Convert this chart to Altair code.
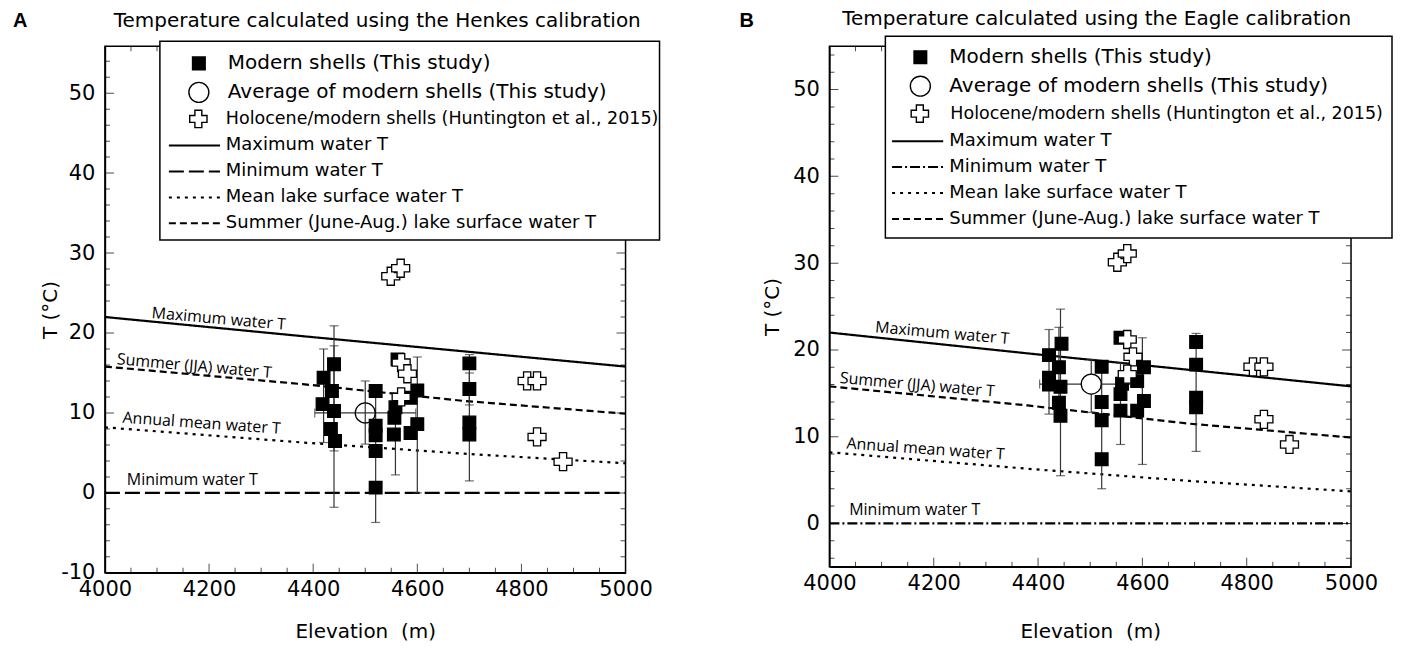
import altair as alt
import pandas as pd

FONT = "DejaVu Sans"

# ---------------- shared reference lines ----------------
line_names = ["Maximum water T", "Minimum water T", "Mean lake surface water T",
              "Summer (June-Aug.) lake surface water T"]
line_elev = [4000, 4380, 4690, 5000]
max_T = [22.0, 19.6, 17.7, 15.8]
min_T = [0.0, 0.0, 0.0, 0.0]
mean_T = [8.2, 6.3, 4.9, 3.7]
summer_T = [15.8, 13.6, 11.5, 9.9]

study_names = ["Modern shells (This study)", "Average of modern shells (This study)"]
hunt_name = "Holocene/modern shells (Huntington et al., 2015)"

ann_text = ["Maximum water T", "Summer (JJA) water T", "Annual mean water T", "Minimum water T"]
ann_angle = [5, 5, 4, 0]

# ---------------- Panel A: Henkes calibration ----------------
H_sq_elev = [4420, 4418, 4440, 4436, 4440, 4434, 4442, 4520, 4520, 4520, 4520, 4520,
             4562, 4558, 4556, 4555, 4587, 4600, 4600, 4587, 4700, 4700, 4700, 4700]
H_sq_T = [14.4, 11.1, 16.1, 12.75, 10.25, 8.0, 6.5, 12.75, 8.4, 7.2, 5.25, 0.66,
          16.7, 10.7, 9.4, 7.3, 11.9, 12.8, 8.6, 7.5, 16.2, 13.0, 8.8, 7.3]
H_eb_elev = [4420, 4440, 4440, 4520, 4558, 4600, 4700, 4700]
H_eb_lo = [6.3, -1.8, 5.25, -3.7, 2.25, 0.0, 1.5, 11.0]
H_eb_hi = [18.0, 20.9, 18.4, 12.8, 12.5, 17.0, 17.3, 15.0]
H_avg = [4500, 10.0]
H_avg_elev_rng = [4403, 4597]
H_avg_T_rng = [6.1, 14.0]
H_hu_elev = [4549, 4568, 4569, 4581, 4569, 4811, 4830, 4830, 4880]
H_hu_T = [27.1, 28.1, 16.3, 14.9, 12.0, 14.0, 14.0, 7.0, 3.9]
H_ann_x = [4090, 4023, 4034, 4042]
H_ann_y = [22.5, 16.7, 9.4, 1.6]

# ---------------- Panel B: Eagle calibration ----------------
E_sq_elev = [4421, 4421, 4421, 4445, 4440, 4443, 4440, 4443, 4522, 4522, 4522, 4522,
             4558, 4561, 4558, 4558, 4603, 4590, 4603, 4590, 4703, 4703, 4703, 4703]
E_sq_T = [19.4, 16.8, 16.0, 20.7, 18.0, 15.75, 13.9, 12.4, 18.05, 14.0, 11.9, 7.4,
          21.4, 16.1, 14.9, 13.0, 18.0, 16.4, 14.1, 13.0, 20.9, 18.3, 14.5, 13.4]
E_eb_elev = [4421, 4443, 4440, 4522, 4558, 4600, 4703]
E_eb_lo = [12.6, 5.5, 12.5, 4.0, 9.1, 6.8, 8.3]
E_eb_hi = [22.35, 24.7, 22.6, 18.05, 18.5, 21.4, 21.9]
E_avg = [4502, 16.06]
E_avg_elev_rng = [4403, 4597]
E_avg_T_rng = [12.8, 18.9]
E_hu_elev = [4552, 4571, 4571, 4582, 4571, 4812, 4833, 4833, 4882]
E_hu_T = [30.1, 31.1, 21.2, 19.2, 17.2, 18.05, 18.05, 12.0, 9.1]
E_ann_x = [4088, 4020, 4033, 4038]
E_ann_y = [22.6, 16.75, 9.2, 1.5]


def line_table():
    rows = []
    for name, vals in zip(line_names, [max_T, min_T, mean_T, summer_T]):
        for e, t in zip(line_elev, vals):
            rows.append({"line": name, "elev": e, "T": t})
    return pd.DataFrame(rows)


def edge_ticks(vals, kind, anchor, length):
    df = pd.DataFrame({"v": vals})
    if kind == "y":
        return alt.Chart(df).mark_tick(orient="horizontal", size=length, thickness=1,
                                       color="black", clip=True).encode(x=alt.datum(anchor), y="v:Q")
    return alt.Chart(df).mark_tick(orient="vertical", size=length, thickness=1,
                                   color="black", clip=True).encode(x="v:Q", y=alt.datum(anchor))


def one_text(txt, pos, **kw):
    return alt.Chart(pd.DataFrame({"k": [0]})).mark_text(color="black", **kw).encode(
        x=alt.value(pos[0]), y=alt.value(pos[1]), text=alt.value(txt))


def panel(title, title_pos, letter, letter_pos, sq_e, sq_t, eb_e, eb_lo, eb_hi, avg,
          avg_er, avg_tr, hu_e, hu_t, ann_x, ann_y, ydom, width, height,
          frame, leg_a, leg_b, leg_l, min_dash, circle_fill, y_title_pad, x_title_pad):
    xscale = alt.Scale(domain=[4000, 5000], nice=False, zero=False)
    yscale = alt.Scale(domain=ydom, nice=False, zero=False)
    x_major = list(range(4000, 5001, 200))
    x_minor = [v for v in range(4000, 5001, 50) if v % 200 != 0]
    y_lo = int(ydom[0])
    y_major = [v for v in range(y_lo, 56) if v % 10 == 0 and v <= ydom[1]]
    y_minor = [v for v in range(y_lo, 56) if v % 2 == 0 and v % 10 != 0 and v <= ydom[1]]

    xaxis = alt.Axis(
        values=x_major, labelExpr="'' + datum.value", labelOverlap=False, labelFlush=False,
        ticks=False, grid=False, domainColor="black", domainWidth=1.5,
        labelFont=FONT, labelFontSize=21, labelColor="black", labelPadding=6,
        title="Elevation\u00a0\u00a0(m)", titleFont=FONT, titleFontSize=20,
        titleFontWeight="normal", titleColor="black", titlePadding=x_title_pad)
    yaxis = alt.Axis(
        values=y_major, labelExpr="'' + datum.value", labelOverlap=False, labelFlush=False,
        ticks=False, grid=False, domainColor="black", domainWidth=1.5,
        labelFont=FONT, labelFontSize=21, labelColor="black", labelPadding=10,
        title="T (°C)", titleFont=FONT, titleFontSize=20, titleFontWeight="normal",
        titleColor="black", titlePadding=y_title_pad)

    dashes = [[1, 0], min_dash, [3, 5], [7, 4]]
    line_leg = alt.Legend(title=None, orient="none", legendX=leg_l[0], legendY=leg_l[1],
                          symbolType="M-1.6,0H1.6", symbolSize=1024, symbolStrokeWidth=2,
                          symbolStrokeColor="black", symbolFillColor="transparent",
                          labelFont=FONT, labelFontSize=18,
                          labelColor="black", labelOffset=leg_l[2], rowPadding=0,
                          labelLimit=700, padding=0)
    lines = alt.Chart(line_table()).mark_line(color="black", strokeWidth=2.2).encode(
        x=alt.X("elev:Q", scale=xscale, axis=xaxis),
        y=alt.Y("T:Q", scale=yscale, axis=yaxis),
        strokeDash=alt.StrokeDash("line:N", scale=alt.Scale(domain=line_names, range=dashes),
                                  legend=line_leg),
    )

    ticks = [
        edge_ticks(y_major, "y", 4000, 18), edge_ticks(y_minor, "y", 4000, 10),
        edge_ticks(y_major, "y", 5000, 18), edge_ticks(y_minor, "y", 5000, 10),
        edge_ticks(x_major, "x", ydom[0], 18), edge_ticks(x_minor, "x", ydom[0], 10),
        edge_ticks(x_major, "x", ydom[1], 18), edge_ticks(x_minor, "x", ydom[1], 10),
    ]

    ann_df = pd.DataFrame({"t": ann_text, "x": ann_x, "y": ann_y, "a": ann_angle})
    ann = alt.Chart(ann_df).mark_text(align="left", baseline="middle", font="Open Sans",
                                      fontSize=16, color="black").encode(
        x="x:Q", y="y:Q", text="t:N", angle=alt.Angle("a:Q", scale=None))

    eb_df = pd.DataFrame({"elev": eb_e, "lo": eb_lo, "hi": eb_hi})
    ebc = "#333333"
    eb_rule = alt.Chart(eb_df).mark_rule(color=ebc, strokeWidth=1.2).encode(
        x="elev:Q", y="lo:Q", y2="hi:Q")
    eb_cap_lo = alt.Chart(eb_df).mark_tick(orient="horizontal", size=9, thickness=1.2, color=ebc).encode(
        x="elev:Q", y="lo:Q")
    eb_cap_hi = alt.Chart(eb_df).mark_tick(orient="horizontal", size=9, thickness=1.2, color=ebc).encode(
        x="elev:Q", y="hi:Q")

    avg_df = pd.DataFrame({"elev": [avg[0]], "T": [avg[1]], "e0": [avg_er[0]], "e1": [avg_er[1]],
                           "t0": [avg_tr[0]], "t1": [avg_tr[1]]})
    avg_h = alt.Chart(avg_df).mark_rule(color=ebc, strokeWidth=1.2).encode(x="e0:Q", x2="e1:Q", y="T:Q")
    avg_v = alt.Chart(avg_df).mark_rule(color=ebc, strokeWidth=1.2).encode(x="elev:Q", y="t0:Q", y2="t1:Q")
    avg_c0 = alt.Chart(avg_df).mark_tick(orient="vertical", size=9, thickness=1.2, color=ebc).encode(x="e0:Q", y="T:Q")
    avg_c1 = alt.Chart(avg_df).mark_tick(orient="vertical", size=9, thickness=1.2, color=ebc).encode(x="e1:Q", y="T:Q")
    avg_c2 = alt.Chart(avg_df).mark_tick(orient="horizontal", size=9, thickness=1.2, color=ebc).encode(x="elev:Q", y="t0:Q")
    avg_c3 = alt.Chart(avg_df).mark_tick(orient="horizontal", size=9, thickness=1.2, color=ebc).encode(x="elev:Q", y="t1:Q")

    # this-study points (squares + average circle)
    st_rows = ([{"series": study_names[0], "elev": e, "T": t} for e, t in zip(sq_e, sq_t)]
               + [{"series": study_names[1], "elev": avg[0], "T": avg[1]}])
    st_df = pd.DataFrame(st_rows)
    leg_st = alt.Legend(title=None, orient="none", legendX=leg_a[0], legendY=leg_a[1],
                        symbolStrokeColor="black", symbolStrokeWidth=1.4, labelFont=FONT,
                        labelFontSize=20, labelColor="black", labelOffset=18, rowPadding=6,
                        labelLimit=700, padding=0)
    st_pts = alt.Chart(st_df).mark_point(opacity=1, fillOpacity=1, strokeWidth=1.3).encode(
        x="elev:Q", y="T:Q",
        shape=alt.Shape("series:N", scale=alt.Scale(domain=study_names, range=["square", "circle"]),
                        legend=leg_st),
        fill=alt.Fill("series:N", scale=alt.Scale(domain=study_names, range=["black", circle_fill]),
                      legend=leg_st),
        stroke=alt.Stroke("series:N", scale=alt.Scale(domain=study_names, range=["black", "black"]),
                          legend=leg_st),
        size=alt.Size("series:N", scale=alt.Scale(type="ordinal", domain=study_names, range=[160, 400]),
                      legend=leg_st),
    )

    # Huntington et al. points
    hu_df = pd.DataFrame({"source": [hunt_name] * len(hu_e), "elev": hu_e, "T": hu_t})
    leg_hu = alt.Legend(title=None, orient="none", legendX=leg_b[0], legendY=leg_b[1],
                        symbolStrokeColor="black", symbolStrokeWidth=1.4, symbolSize=300,
                        labelFont=FONT, labelFontSize=17.5, labelColor="black", labelOffset=leg_b[2],
                        labelLimit=700, padding=0)
    hu_pts = alt.Chart(hu_df).mark_point(opacity=1, fillOpacity=1, strokeWidth=1.3, size=324).encode(
        x="elev:Q", y="T:Q",
        shape=alt.Shape("source:N", scale=alt.Scale(domain=[hunt_name], range=["cross"]), legend=leg_hu),
        fill=alt.Fill("source:N", scale=alt.Scale(domain=[hunt_name], range=["white"]), legend=leg_hu),
        stroke=alt.Stroke("source:N", scale=alt.Scale(domain=[hunt_name], range=["black"]), legend=leg_hu),
    )

    fr = alt.Chart(pd.DataFrame({"k": [0]})).mark_rect(fill="white", stroke="black", strokeWidth=1.5).encode(
        x=alt.value(frame[0]), x2=alt.value(frame[1]), y=alt.value(frame[2]), y2=alt.value(frame[3]))
    let = one_text(letter, letter_pos, align="left", baseline="middle", font="Liberation Sans",
                   fontSize=20, fontWeight="bold")
    ttl = one_text(title, title_pos, align="center", baseline="middle", font=FONT, fontSize=20)

    return alt.layer(
        lines, *ticks, ann, eb_rule, eb_cap_lo, eb_cap_hi, avg_h, avg_v, avg_c0, avg_c1, avg_c2, avg_c3,
        st_pts, hu_pts, fr, let, ttl,
    ).resolve_scale(
        shape="independent", fill="independent", stroke="independent", size="independent"
    ).properties(width=width, height=height)


left = panel("Temperature calculated using the Henkes calibration", (272.5, -25), "A", (-92, -25),
             H_sq_elev, H_sq_T, H_eb_elev, H_eb_lo, H_eb_hi, H_avg, H_avg_elev_rng, H_avg_T_rng,
             H_hu_elev, H_hu_T, H_ann_x, H_ann_y, [-10, 55.875], 521, 527,
             (55, 555, -5, 194), (83, 7.2), (84, 63.3, 18), (72.6, 82.3, 14.4), [15, 5],
             "transparent", 0, 22)
right = panel("Temperature calculated using the Eagle calibration", (267.5, -27), "B", (-90, -25),
              E_sq_elev, E_sq_T, E_eb_elev, E_eb_lo, E_eb_hi, E_avg, E_avg_elev_rng, E_avg_T_rng,
              E_hu_elev, E_hu_T, E_ann_x, E_ann_y, [-5, 55], 522, 521,
              (56, 563, -10, 192), (80, 1), (81, 58, 21), (71.3, 78, 14.7), [10, 3, 2, 3],
              "white", 10, 28)

chart = alt.hconcat(left, right, spacing=77).resolve_scale(
    shape="independent", fill="independent", size="independent", stroke="independent",
    strokeDash="independent"
).resolve_legend(
    shape="independent", fill="independent", size="independent", stroke="independent",
    strokeDash="independent"
).configure_view(stroke="black", strokeWidth=1.5).properties(
    padding={"left": 4, "top": 0, "right": 0, "bottom": 0})

chart.save("out.html", embed_options={"renderer": "svg", "actions": False})
